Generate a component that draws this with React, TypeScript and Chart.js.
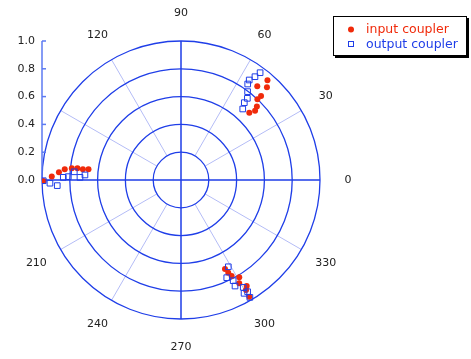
import React, { useEffect, useRef } from "react";
import { Chart, registerables } from "chart.js";

Chart.register(...registerables);

// Polar data: radius (0..1) and angle in degrees
const inputR = [0.95, 0.91, 0.87, 0.835, 0.8, 0.76, 0.73, 0.69, 0.99, 0.93, 0.88, 0.84, 0.79, 0.75, 0.71, 0.67, 0.714, 0.749, 0.781, 0.816, 0.853, 0.897, 0.919, 0.973];
const inputTheta = [49.1, 47.2, 50.9, 46.4, 46.6, 44.1, 43.1, 44.6, 180.4, 178.5, 176.4, 174.7, 173.9, 173.5, 173.8, 173.4, 296.3, 297.0, 297.8, 300.9, 299.4, 301.8, 300.6, 300.3];
const outputR = [0.959, 0.914, 0.871, 0.841, 0.796, 0.757, 0.719, 0.677, 0.991, 0.943, 0.891, 0.847, 0.811, 0.77, 0.727, 0.692, 0.711, 0.776, 0.816, 0.856, 0.893, 0.933, 0.936, 0.979];
const outputTheta = [53.6, 54.4, 55.7, 55.2, 53.0, 50.9, 50.7, 49.0, 180.3, 181.4, 182.6, 178.7, 178.3, 175.6, 178.5, 177.0, 298.6, 295.1, 297.4, 297.0, 300.1, 299.1, 300.8, 300.4];

const seriesLabels = ["input coupler", "output coupler"];
const radialTicks = [0.2, 0.4, 0.6, 0.8, 1.0];
const radialTickLabels = ["0.0", "0.2", "0.4", "0.6", "0.8", "1.0"];
const angleTicks = [0, 30, 60, 90, 120, 150, 180, 210, 240, 270, 300, 330];
const angleLabels = ["0", "30", "60", "90", "120", "", "", "210", "240", "270", "300", "330"];

const RED = "#f02a0a";
const BLUE = "#1f3ee8";

function toXY(r: number[], th: number[]) {
  return r.map((rv, i) => ({
    x: rv * Math.cos((th[i] * Math.PI) / 180),
    y: rv * Math.sin((th[i] * Math.PI) / 180),
  }));
}

const polarPlugin = {
  id: "polarGrid",
  beforeDatasetsDraw(chart: any) {
    const ctx = chart.ctx;
    const xs = chart.scales.x;
    const ys = chart.scales.y;
    const cx = xs.getPixelForValue(0);
    const cy = ys.getPixelForValue(0);
    const R = xs.getPixelForValue(1) - cx;
    ctx.save();
    // spokes
    ctx.strokeStyle = "#b4bcf6";
    ctx.lineWidth = 1;
    angleTicks.forEach((a) => {
      if (a % 90 === 0) return;
      const t = (a * Math.PI) / 180;
      ctx.beginPath();
      ctx.moveTo(cx + R * 0.2 * Math.cos(t), cy - R * 0.2 * Math.sin(t));
      ctx.lineTo(cx + R * Math.cos(t), cy - R * Math.sin(t));
      ctx.stroke();
    });
    // circles
    ctx.strokeStyle = BLUE;
    ctx.lineWidth = 1.3;
    radialTicks.forEach((r) => {
      ctx.beginPath();
      ctx.arc(cx, cy, r * R, 0, Math.PI * 2);
      ctx.stroke();
    });
    // main axes
    ctx.lineWidth = 1.5;
    ctx.beginPath();
    ctx.moveTo(cx - R, cy);
    ctx.lineTo(cx + R, cy);
    ctx.moveTo(cx, cy - R);
    ctx.lineTo(cx, cy + R);
    ctx.stroke();
    // left radial axis
    const ax = cx - R;
    ctx.strokeStyle = "#5c7af2";
    ctx.lineWidth = 1.5;
    ctx.beginPath();
    ctx.moveTo(ax, cy);
    ctx.lineTo(ax, cy - R);
    ctx.stroke();
    ctx.font = "11px 'DejaVu Sans'";
    ctx.fillStyle = "#222";
    ctx.textAlign = "right";
    ctx.textBaseline = "middle";
    radialTickLabels.forEach((lab, i) => {
      const v = i * 0.2;
      const y = cy - v * R;
      ctx.beginPath();
      ctx.moveTo(ax, y);
      ctx.lineTo(ax + 4, y);
      ctx.stroke();
      ctx.fillText(lab, ax - 7, y);
    });
    // angle labels
    ctx.textAlign = "center";
    const LR = R + 28;
    angleTicks.forEach((a, i) => {
      const lab = angleLabels[i];
      if (!lab) return;
      const t = (a * Math.PI) / 180;
      ctx.fillText(lab, cx + LR * Math.cos(t), cy - LR * Math.sin(t));
    });
    ctx.restore();
  },
  afterDraw(chart: any) {
    const ctx = chart.ctx;
    const x0 = 333, y0 = 16, w = 133, h = 39;
    ctx.save();
    ctx.fillStyle = "#000";
    ctx.fillRect(x0 + 2, y0 + 2, w + 1, h + 1);
    ctx.fillStyle = "#fff";
    ctx.fillRect(x0, y0, w, h);
    ctx.strokeStyle = "#000";
    ctx.lineWidth = 1;
    ctx.strokeRect(x0 + 0.5, y0 + 0.5, w, h);
    ctx.font = "12.5px 'DejaVu Sans'";
    ctx.textAlign = "left";
    ctx.textBaseline = "middle";
    // input
    ctx.fillStyle = RED;
    ctx.beginPath();
    ctx.arc(351, 29.5, 3, 0, Math.PI * 2);
    ctx.fill();
    ctx.fillText(chart.data.datasets[0].label, 366, 29.5);
    // output
    ctx.strokeStyle = BLUE;
    ctx.strokeRect(348.5, 41.5, 5, 5);
    ctx.fillStyle = BLUE;
    ctx.fillText(chart.data.datasets[1].label, 366, 44.5);
    ctx.restore();
  },
};

export default function App() {
  const ref = useRef<HTMLCanvasElement>(null);
  useEffect(() => {
    const chart = new Chart(ref.current!, {
      type: "scatter",
      data: {
        datasets: [
          {
            label: seriesLabels[0],
            data: toXY(inputR, inputTheta),
            pointStyle: "circle",
            pointRadius: 3,
            backgroundColor: RED,
            borderColor: RED,
            borderWidth: 0,
            order: 2,
          },
          {
            label: seriesLabels[1],
            data: toXY(outputR, outputTheta),
            pointStyle: "rect",
            pointRadius: 4,
            backgroundColor: "rgba(255,255,255,0)",
            borderColor: BLUE,
            borderWidth: 1,
            order: 1,
          },
        ],
      },
      options: {
        animation: false,
        responsive: false,
        devicePixelRatio: 1,
        layout: { padding: { left: 42, right: 151, top: 41, bottom: 40 } },
        scales: {
          x: { type: "linear", min: -1, max: 1, display: false },
          y: { type: "linear", min: -1, max: 1, display: false },
        },
        plugins: { legend: { display: false }, tooltip: { enabled: false } },
      },
      plugins: [polarPlugin],
    });
    return () => chart.destroy();
  }, []);
  return (
    <div style={{ position: "fixed", left: 0, top: 0, width: 471, height: 359, background: "#fff" }}>
      <canvas ref={ref} width={471} height={359} />
    </div>
  );
}
